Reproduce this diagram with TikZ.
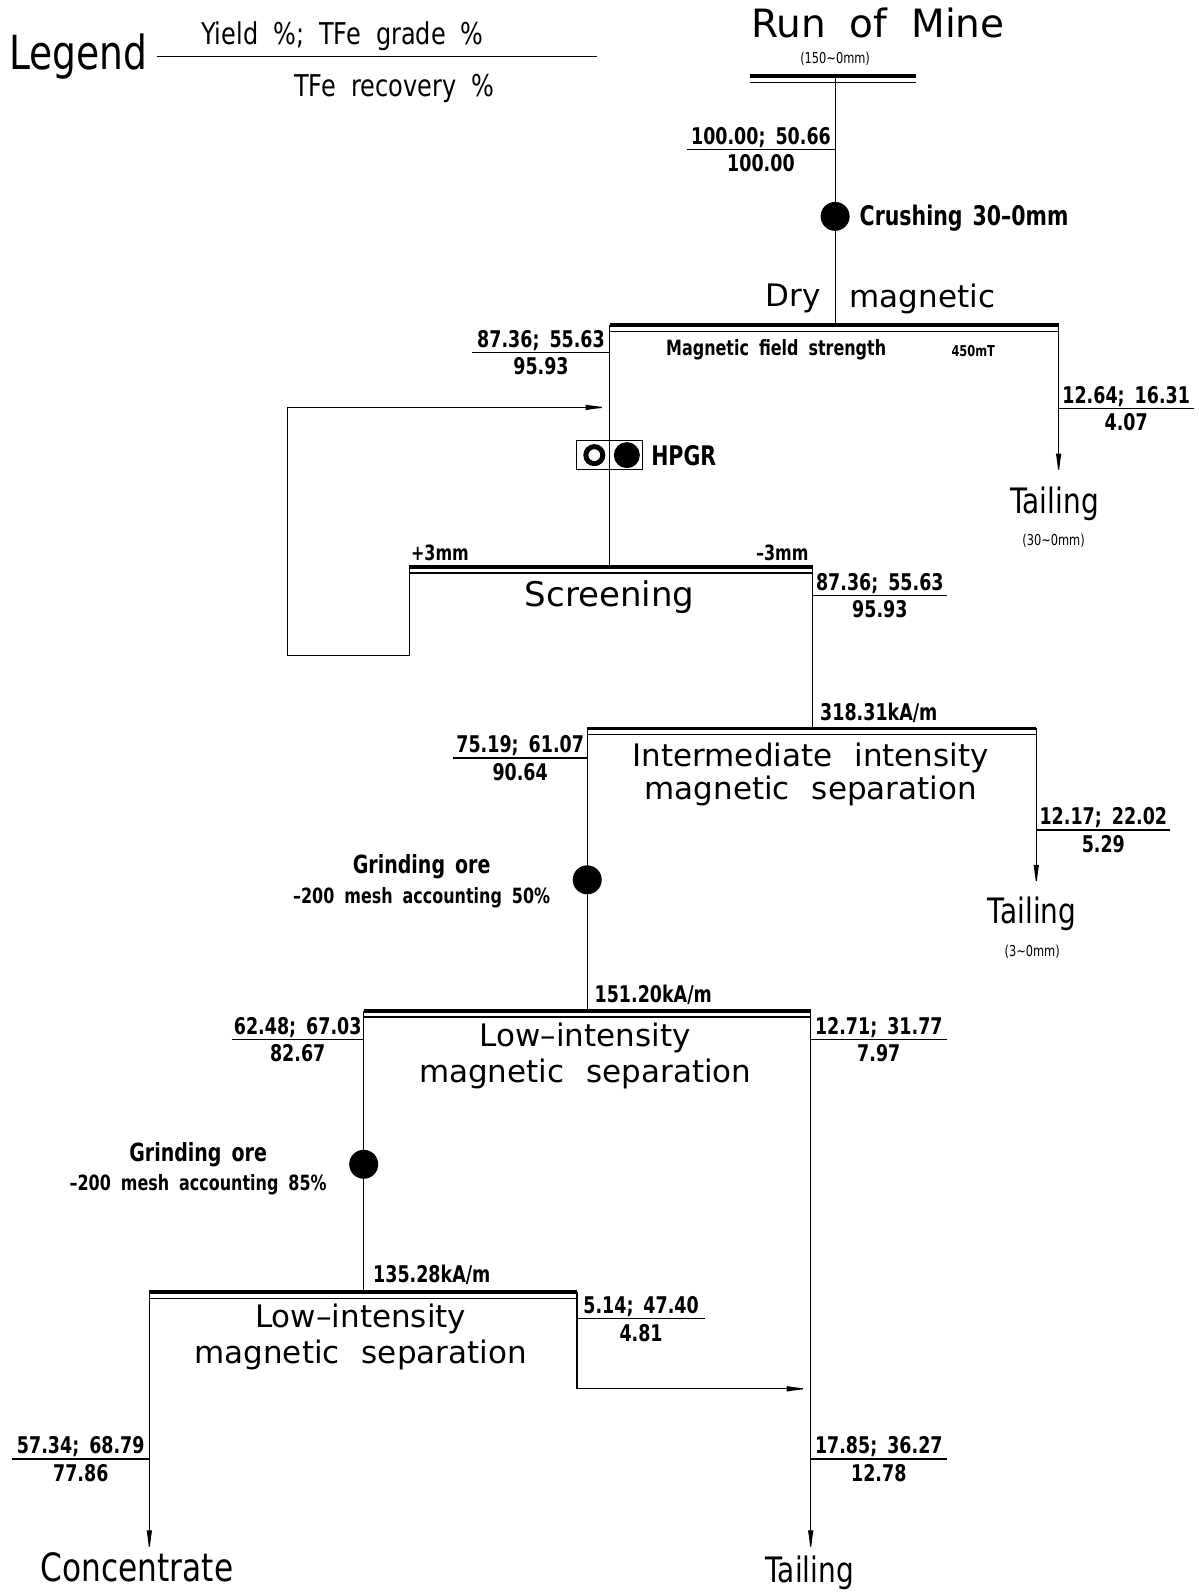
\documentclass[tikz,border=0pt]{standalone}
\usepackage{fontspec}
\usetikzlibrary{calc,arrows.meta}
\newfontfamily\bigfont{DejaVu Sans}
\newfontfamily\numfont[FakeStretch=0.76]{DejaVu Sans}
\newfontfamily\txtfont[FakeStretch=0.8]{DejaVu Sans}
\newcommand\numsp{\spaceskip=10pt\relax}
\newcommand\bigsp{\spaceskip=22pt\relax}
\newcommand\legsp{\spaceskip=15pt\relax}
\newcommand\romsp{\spaceskip=24pt\relax}
\tikzset{
  flow/.style={line width=1.2pt},
  arr/.style={line width=1.2pt,-{Latex[length=24pt,width=5.5pt]}},
  barthick/.style={line width=3.6pt},
  barthin/.style={line width=1.3pt},
  num/.style={font=\numfont\bfseries\fontsize{23}{27}\selectfont\numsp, inner sep=0pt},
  numg/.style={font=\numfont\bfseries\fontsize{25}{29}\selectfont\numsp, inner sep=0pt},
  small/.style={font=\numfont\bfseries\fontsize{21}{25}\selectfont\numsp, inner sep=0pt},
  tiny/.style={font=\numfont\fontsize{15}{18}\selectfont, inner sep=0pt},
  tinyb/.style={font=\numfont\bfseries\fontsize{15}{18}\selectfont, inner sep=0pt},
  mid/.style={font=\numfont\bfseries\fontsize{27}{31}\selectfont\numsp, inner sep=0pt},
  outtxt/.style={font=\txtfont\fontsize{35}{40}\selectfont, inner sep=0pt},
  bigtxt/.style={font=\bigfont\fontsize{31}{36}\selectfont\bigsp, inner sep=0pt},
  romtxt/.style={font=\bigfont\fontsize{39}{44}\selectfont\romsp, inner sep=0pt},
  scrtxt/.style={font=\bigfont\fontsize{34}{40}\selectfont, inner sep=0pt},
  legtxt/.style={font=\txtfont\fontsize{30}{34}\selectfont\legsp, inner sep=0pt},
  legbig/.style={font=\txtfont\fontsize{47}{52}\selectfont, inner sep=0pt},
  conctxt/.style={font=\txtfont\fontsize{39}{44}\selectfont, inner sep=0pt},
  dot/.style={circle, fill=black, minimum size=29pt, inner sep=0pt},
}
\newcommand\dbar[2]{\draw[barthick] (#1) -- (#2); \draw[barthin] ($(#1)+(0,6)$) -- ($(#2)+(0,6)$);}
\newcommand\flab[6]{%
  \coordinate (#1a) at (#2,#4); \coordinate (#1b) at (#3,#4);
  \draw[flow] (#1a) -- (#1b);
  \node[num, anchor=base] (#1t) at ($(#1a)!0.5!(#1b)+(0,-5)$) {#5};
  \node[num, anchor=base] (#1u) at ($(#1a)!0.5!(#1b)+(0,22)$) {#6};
}
\begin{document}
\begin{tikzpicture}[x=1.0161pt,y=-1.0161pt]
\useasboundingbox (0,0) rectangle (1180,1568);
\fill[white] (0,0) rectangle (1180,1568);

% ---------- key coordinates
\coordinate (romL) at (738,75);  \coordinate (romR) at (902,75);  \coordinate (romC) at (822,75);
\coordinate (dryL) at (600,320); \coordinate (dryR) at (1042,320); \coordinate (dryC) at (822,320);
\coordinate (scrL) at (403,558); \coordinate (scrR) at (800,558); \coordinate (scrC) at (600,558);
\coordinate (imsL) at (578,717); \coordinate (imsR) at (1020,717); \coordinate (imsC) at (800,717);
\coordinate (l1L) at (358,995);  \coordinate (l1R) at (798,995);  \coordinate (l1C) at (578,995);
\coordinate (l2L) at (147,1272); \coordinate (l2R) at (568,1272); \coordinate (l2C) at (358,1272);
\coordinate (t1) at (1042,470);
\coordinate (t2) at (1020,875);
\coordinate (t3) at (798,1530);
\coordinate (ct) at (147,1530);
\coordinate (lp1) at (403,645); \coordinate (lp2) at (283,645); \coordinate (lp3) at (283,401);
\coordinate (lpe) at (600,401);
\coordinate (bk1) at (568,1367); \coordinate (bk2) at (798,1367);

% ---------- HPGR symbol
\node[draw, line width=1.3pt, fill=white, minimum width=66pt, minimum height=29pt, inner sep=0pt] (hpgr) at (600,448) {};
\draw[line width=5pt] (585,448) circle[radius=8.5pt];
\fill[black] (617,448) circle[radius=13pt];
\node[mid] (hpgrt) at (673,449) {HPGR};

% ---------- flow lines
\draw[flow] (romC) -- (dryC);
\draw[flow] (dryL) -- (hpgr.south);
\draw[flow] (hpgr.north) -- (scrC);
\draw[arr] (dryR) -- (t1);
\draw[arr] (scrL) -- (lp1) -- (lp2) -- (lp3) -- (lpe);
\draw[flow] (scrR) -- (imsC);
\draw[flow] (imsL) -- (l1C);
\draw[arr] (imsR) -- (t2);
\draw[flow] (l1L) -- (l2C);
\draw[arr] (l1R) -- (t3);
\draw[arr] (l2L) -- (ct);
\draw[arr] (l2R) -- (bk1) -- (bk2);

% ---------- bars
\dbar{romL}{romR}
\dbar{dryL}{dryR}
\dbar{scrL}{scrR}
\dbar{imsL}{imsR}
\dbar{l1L}{l1R}
\dbar{l2L}{l2R}

% ---------- dots
\node[dot] (crush) at (822,213) {};
\node[dot] (grind1) at (578,866) {};
\node[dot] (grind2) at (358,1146) {};

% ---------- legend
\node[legbig] (legend) at (77,56) {Legend};
\coordinate (lgA) at (155,56); \coordinate (lgB) at (588,56);
\draw[flow] (lgA) -- (lgB);
\node[legtxt] (legtop) at (337,36) {Yield \%; TFe grade \%};
\node[legtxt] (legbot) at (388,87) {TFe recovery \%};

% ---------- texts
\node[romtxt] (rom) at (864,23) {Run of Mine};
\node[tiny] (romsz) at (822,58) {(150\textasciitilde0mm)};
\node[mid, anchor=west] (crusht) at (846,215) {Crushing 30–0mm};
\node[bigtxt] (dryt) at (781,294) {Dry};
\node[bigtxt] (magt) at (908,294) {magnetic};
\node[small] (mfs) at (764,344) {Magnetic field strength};
\node[tinyb] (mt) at (958,346) {450mT};
\node[outtxt] (tail1) at (1038,496) {Tailing};
\node[tiny] (tail1s) at (1037,532) {(30\textasciitilde0mm)};
\node[small] (p3) at (433,544) {+3mm};
\node[small] (m3) at (770,544) {–3mm};
\node[scrtxt] (scrt) at (600,588) {Screening};
\node[num] (f1) at (865,702) {318.31kA/m};
\node[bigtxt] (imst1) at (798,746) {Intermediate intensity};
\node[bigtxt] (imst2) at (798,779) {magnetic separation};
\node[outtxt] (tail2) at (1016,899) {Tailing};
\node[tiny] (tail2s) at (1016,937) {(3\textasciitilde0mm)};
\node[numg] (g1a) at (415,853) {Grinding ore};
\node[small] (g1b) at (415,884) {–200 mesh accounting 50\%};
\node[num] (f2) at (643,979) {151.20kA/m};
\node[bigtxt] (l1t1) at (576,1022) {Low–intensity};
\node[bigtxt] (l1t2) at (576,1057) {magnetic separation};
\node[numg] (g2a) at (195,1137) {Grinding ore};
\node[small] (g2b) at (195,1166) {–200 mesh accounting 85\%};
\node[num] (f3) at (425,1255) {135.28kA/m};
\node[bigtxt] (l2t1) at (355,1298) {Low–intensity};
\node[bigtxt] (l2t2) at (355,1334) {magnetic separation};
\node[conctxt] (conc) at (135,1543) {Concentrate};
\node[outtxt] (tail3) at (797,1548) {Tailing};

% ---------- data labels
\flab{a}{676}{822}{147}{100.00; 50.66}{100.00}
\flab{b}{465}{600}{347}{87.36; 55.63}{95.93}
\flab{c}{1042}{1175}{402}{12.64; 16.31}{4.07}
\flab{d}{800}{932}{586}{87.36; 55.63}{95.93}
\flab{e}{446}{578}{746}{75.19; 61.07}{90.64}
\flab{f}{1020}{1152}{817}{12.17; 22.02}{5.29}
\flab{g}{228}{358}{1023}{62.48; 67.03}{82.67}
\flab{h}{798}{932}{1023}{12.71; 31.77}{7.97}
\flab{i}{568}{694}{1298}{5.14; 47.40}{4.81}
\flab{j}{12}{147}{1436}{57.34; 68.79}{77.86}
\flab{k}{798}{932}{1436}{17.85; 36.27}{12.78}
\end{tikzpicture}
\end{document}
